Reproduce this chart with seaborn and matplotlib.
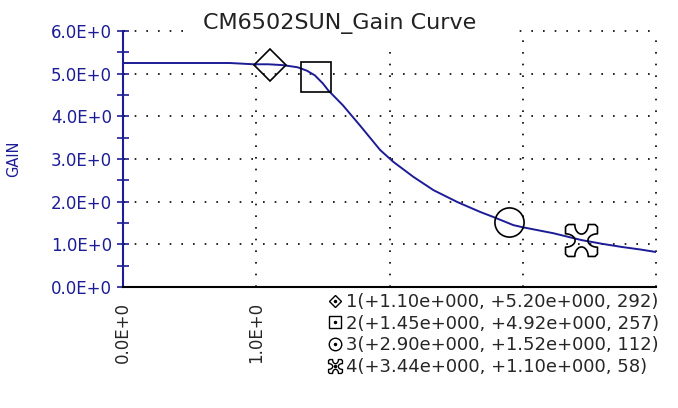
import matplotlib
matplotlib.use("Agg")
import matplotlib.pyplot as plt
from matplotlib.lines import Line2D
from matplotlib.patches import Rectangle
from matplotlib.legend_handler import HandlerTuple
import numpy as np
import pandas as pd
import seaborn as sns

# gain curve
curve_x = [0.0, 0.80, 0.98, 1.09, 1.20, 1.31, 1.38, 1.44, 1.50, 1.54, 1.65,
           1.78, 1.93, 2.03, 2.18, 2.33, 2.51, 2.68, 2.78, 2.93, 3.0, 3.23,
           3.44, 3.60, 3.74, 3.88, 4.0]
curve_y = [5.25, 5.25, 5.22, 5.22, 5.20, 5.15, 5.07, 4.96, 4.77, 4.61, 4.26,
           3.78, 3.21, 2.93, 2.58, 2.27, 1.99, 1.76, 1.64, 1.45, 1.40, 1.26,
           1.10, 1.01, 0.94, 0.88, 0.82]

# cursor markers
mark_x = [1.10, 1.45, 2.90, 3.44]
mark_y = [5.20, 4.92, 1.52, 1.10]
mark_n = [292, 257, 112, 58]

y_ticks = [0, 1, 2, 3, 4, 5, 6]
y_tick_labels = ['0.0E+0', '1.0E+0', '2.0E+0', '3.0E+0', '4.0E+0', '5.0E+0', '6.0E+0']
x_ticks = [0, 0.5, 1, 1.5, 2, 2.5, 3, 3.5, 4]
x_tick_labels = ['0.0E+0', '', '1.0E+0', '', '', '', '', '', '']

BLUE = '#1c1c96'


def sci3(v):
    # +1.10e+000 style
    e = int(np.floor(np.log10(abs(v)))) if v != 0 else 0
    m = v / 10 ** e
    return f"{m:+.2f}e{'+' if e >= 0 else '-'}{abs(e):03d}"


def notched_square():
    # square with a rounded bite out of every side (the 4th cursor symbol)
    t = np.linspace(np.pi, 2 * np.pi, 14)
    notch = np.c_[0.42 * np.cos(t), 1.0 + 0.6 * np.sin(t)]  # top side, left->right
    pts = []
    for k in range(4):
        a = -k * np.pi / 2
        rot = np.array([[np.cos(a), -np.sin(a)], [np.sin(a), np.cos(a)]])
        pts.append(rot @ np.array([-0.85, 1.0]))
        pts.extend(notch @ rot.T)
        pts.append(rot @ np.array([0.85, 1.0]))
        pts.append(rot @ np.array([1.0, 0.85]))
    pts.append(pts[0])
    return np.array(pts)


CROSS = notched_square()
mark_shapes = ['D', 's', 'o', CROSS]
mark_sizes = [16, 21, 21, 23]
legend_sizes = [6.5, 9, 9, 10]

sns.set_style('white')
plt.rcParams['font.family'] = ['DejaVu Sans']

fig = plt.figure(figsize=(6.78, 4.08), dpi=100)
ax = fig.add_axes([123 / 678, 1 - 287 / 408, 533 / 678, 256 / 408])

# dotted grid
for gx in [1, 2, 3, 4]:
    ax.axvline(gx, color='black', lw=1.2, ls=(0, (1, 6)), zorder=1, clip_on=False)
for gy in [1, 2, 3, 4, 5, 6]:
    ax.axhline(gy, color='black', lw=1.2, ls=(0, (1, 6)), zorder=1, clip_on=False)

df = pd.DataFrame({'x': curve_x, 'y': curve_y})
sns.lineplot(data=df, x='x', y='y', ax=ax, color=BLUE, lw=1.4, zorder=3)

for mx, my, m, ms in zip(mark_x, mark_y, mark_shapes, mark_sizes):
    ax.plot(mx, my, marker=m, ms=ms, mfc='none', mec='black', mew=1.2,
            ls='none', zorder=4)

ax.set_xlim(0, 4)
ax.set_ylim(0, 6)
ax.set_xticks(x_ticks)
ax.set_xticklabels(x_tick_labels, rotation=90, fontsize=12)
ax.set_yticks(y_ticks)
ax.set_yticklabels(y_tick_labels, fontsize=12, color=BLUE)
ax.set_yticks([0.5, 1.5, 2.5, 3.5, 4.5, 5.5], minor=True)
ax.tick_params(axis='x', direction='inout', length=8, width=1.2, color='black', pad=7)
ax.tick_params(axis='y', which='both', direction='inout', length=8, width=1.2,
               color=BLUE, pad=4, left=True)

for s in ['top', 'right']:
    ax.spines[s].set_visible(False)
ax.spines['left'].set_color(BLUE)
ax.spines['left'].set_linewidth(1.5)
ax.spines['bottom'].set_color('black')
ax.spines['bottom'].set_linewidth(1.5)

ax.set_xlabel('')
ax.set_ylabel('GAIN', fontsize=10.5, color=BLUE)
ax.yaxis.set_label_coords(-0.191, 0.5)

# white strip behind the title hides the top grid line there
fig.patches.append(Rectangle((186 / 678, 1 - 42 / 408), 328 / 678, 38 / 408,
                             transform=fig.transFigure, facecolor='white',
                             edgecolor='none', zorder=2))
fig.text(340 / 678, 1 - 24 / 408, 'CM6502SUN_Gain Curve', fontsize=16,
         ha='center', va='center', color='#222222', zorder=3)

# legend with dotted-centre symbols
handles = []
labels = []
for i, (mx, my, n, m, ls_) in enumerate(zip(mark_x, mark_y, mark_n, mark_shapes,
                                             legend_sizes), start=1):
    outer = Line2D([], [], marker=m, ms=ls_, mfc='none', mec='black', mew=1.0,
                   ls='none')
    dot = Line2D([], [], marker='.', ms=3, color='black', ls='none')
    handles.append((outer, dot))
    labels.append(f"{i}({sci3(mx)}, {sci3(my)}, {n})")

fig.legend(handles, labels, handler_map={tuple: HandlerTuple(ndivide=1, pad=0)},
           loc='upper left', bbox_to_anchor=(326 / 678, 1 - 293 / 408),
           frameon=False, fontsize=13, handletextpad=0.1, labelspacing=0.2,
           handlelength=1.0, borderaxespad=0, borderpad=0)

fig.savefig('out.png', dpi=100)
